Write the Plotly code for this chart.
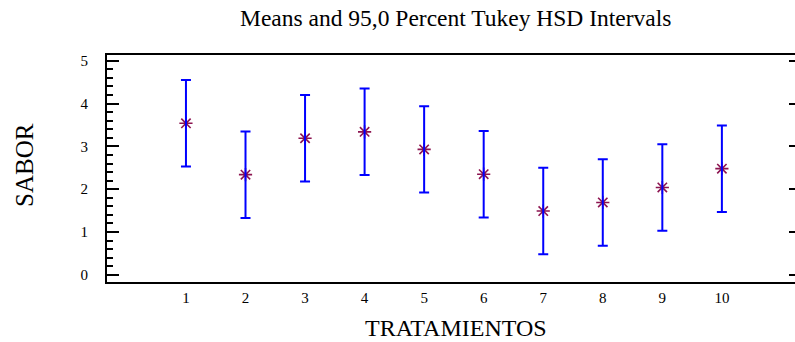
import plotly.graph_objects as go

# Tukey HSD intervals: treatment means and a common half-width
tratamientos = [1, 2, 3, 4, 5, 6, 7, 8, 9, 10]
tick_labels = ["1", "2", "3", "4", "5", "6", "7", "8", "9", "10"]
medias = [3.54, 2.34, 3.19, 3.34, 2.93, 2.35, 1.49, 1.69, 2.04, 2.48]
semi_intervalo = [1.01] * len(tratamientos)

# y axis: labelled majors every 1, unlabelled minors every 0.2
y_major = [0, 1, 2, 3, 4, 5]
y_minor_step = 0.2

SERIF = "Liberation Serif, Times New Roman, serif"
MARKER_COLOR = "#8c1450"
BAR_COLOR = "#0000ff"

x_range = [-0.326, 11.228]
y_range = [-0.168, 5.135]

fig = go.Figure()

# Means as asterisks
fig.add_trace(go.Scatter(
    x=tratamientos, y=medias, mode="markers",
    marker=dict(symbol="asterisk-open", size=11, color=MARKER_COLOR,
                line=dict(color=MARKER_COLOR, width=1.6)),
    showlegend=False, hoverinfo="x+y",
))

# Interval bars drawn on top of the means
fig.add_trace(go.Scatter(
    x=tratamientos, y=medias, mode="markers",
    marker=dict(size=1, opacity=0),
    error_y=dict(type="data", array=semi_intervalo, symmetric=True,
                 color=BAR_COLOR, thickness=2, width=5),
    showlegend=False, hoverinfo="skip",
))

# Helper trace so the right-hand tick axis renders
fig.add_trace(go.Scatter(
    x=tratamientos, y=medias, mode="markers", yaxis="y2",
    marker=dict(size=1, opacity=0), showlegend=False, hoverinfo="skip",
))

fig.update_layout(
    width=795, height=342,
    margin=dict(l=107, r=0, t=55, b=60),
    paper_bgcolor="white", plot_bgcolor="white",
    font=dict(family=SERIF, color="black", size=15),
    xaxis=dict(
        range=x_range, tickmode="array",
        tickvals=tratamientos, ticktext=tick_labels,
        showline=True, linecolor="black", linewidth=2, mirror=True,
        ticks="outside", ticklen=1, tickcolor="rgba(0,0,0,0)",
        showgrid=False, zeroline=False,
        tickfont=dict(family=SERIF, size=15, color="black"),
    ),
    # left axis: long ticks with labels on the integers, short minor ticks
    yaxis=dict(
        range=y_range, tickmode="linear", tick0=y_major[0],
        dtick=y_major[1] - y_major[0],
        showline=True, linecolor="black", linewidth=2,
        ticks="inside", ticklen=12, tickwidth=2, tickcolor="black",
        minor=dict(ticks="inside", ticklen=6, tickwidth=2,
                   tickcolor="black", tickmode="linear",
                   tick0=0, dtick=y_minor_step, showgrid=False),
        showgrid=False, zeroline=False,
        ticklabelstandoff=14,
        tickfont=dict(family=SERIF, size=15, color="black"),
    ),
    # right-hand major tick marks
    yaxis2=dict(
        range=y_range, tickmode="array", tickvals=y_major,
        overlaying="y", side="right", anchor="x",
        showline=False, showgrid=False, zeroline=False,
        ticks="inside", ticklen=6, tickwidth=2, tickcolor="black",
        showticklabels=False,
    ),
    annotations=[
        dict(text="Means and 95,0 Percent Tukey HSD Intervals",
             xref="paper", yref="paper", x=0.507, y=1.163,
             xanchor="center", yanchor="middle", showarrow=False,
             font=dict(family=SERIF, size=23.5, color="black")),
        dict(text="TRATAMIENTOS",
             xref="paper", yref="paper", x=0.507, y=-0.201,
             xanchor="center", yanchor="middle", showarrow=False,
             font=dict(family=SERIF, size=24, color="black")),
        dict(text="SABOR", textangle=-90,
             xref="paper", yref="paper", x=-0.119, y=0.516,
             xanchor="center", yanchor="middle", showarrow=False,
             font=dict(family=SERIF, size=25, color="black")),
    ],
)

fig.write_html("out.html")
